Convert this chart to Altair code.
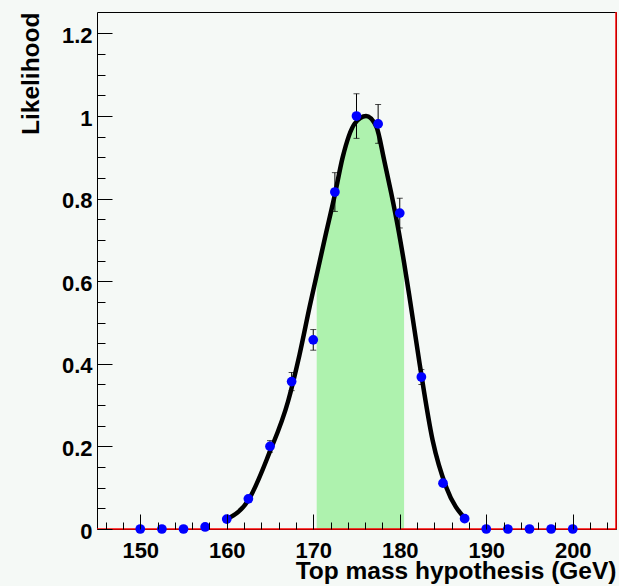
import altair as alt
import pandas as pd

# ---- data ----
mass = [150, 152.5, 155, 157.5, 160, 162.5, 165, 167.5, 170, 172.5, 175,
        177.5, 180, 182.5, 185, 187.5, 190, 192.5, 195, 197.5, 200]
likelihood = [0, 0, 0, 0.005, 0.024, 0.073, 0.2, 0.357, 0.458, 0.816, 1.0,
              0.981, 0.765, 0.368, 0.111, 0.025, 0, 0, 0, 0, 0]
errors = [0, 0, 0, 0.002, 0.004, 0.005, 0.014, 0.022, 0.025, 0.047, 0.054,
          0.047, 0.036, 0.018, 0.007, 0.003, 0, 0, 0, 0, 0]

fit_x = [160.0, 162.5, 164.9, 167.1, 168.4, 169.6, 171.3, 172.5, 173.4, 174.8,
         176.1, 177.3, 178.2, 179.0, 179.8, 180.5, 181.2, 182.3, 183.8, 185.4, 187.5]
fit_y = [0.024, 0.070, 0.183, 0.31, 0.421, 0.54, 0.70, 0.81, 0.90, 0.982,
         1.0, 0.974, 0.893, 0.815, 0.73, 0.645, 0.552, 0.400, 0.215, 0.100, 0.026]

band_x = [170.4, 171.3, 172.5, 173.4, 174.8, 176.1, 177.3, 178.2, 179.0, 179.8, 180.5]
band_y = [0.615, 0.70, 0.81, 0.90, 0.982, 1.0, 0.974, 0.893, 0.815, 0.73, 0.645]

x_domain = [145, 205]
y_domain = [0, 1.252]
x_major = [150, 160, 170, 180, 190, 200]
x_ticks = [146, 148, 150, 152, 154, 156, 158, 160, 162, 164, 166, 168, 170, 172,
           174, 176, 178, 180, 182, 184, 186, 188, 190, 192, 194, 196, 198, 200,
           202, 204]
y_major = [0, 0.2, 0.4, 0.6, 0.8, 1.0, 1.2]
y_ticks = [0, 0.05, 0.1, 0.15, 0.2, 0.25, 0.3, 0.35, 0.4, 0.45, 0.5, 0.55, 0.6,
           0.65, 0.7, 0.75, 0.8, 0.85, 0.9, 0.95, 1.0, 1.05, 1.1, 1.15, 1.2]

FONT = "Liberation Sans"
BG = "#f5f9f6"

pts = pd.DataFrame({"m": mass, "L": likelihood, "e": errors})
pts["lo"] = pts["L"] - pts["e"]
pts["hi"] = pts["L"] + pts["e"]
errs = pts[pts["e"] > 0]
fit = pd.DataFrame({"m": fit_x, "L": fit_y})
band = pd.DataFrame({"m": band_x, "L": band_y})
hline = pd.DataFrame({"x": [x_domain[0]], "x2": [x_domain[1]], "y": [y_domain[0]]})
vline = pd.DataFrame({"x": [x_domain[1]], "y": [y_domain[0]], "y2": [y_domain[1]]})

xs = alt.Scale(domain=x_domain, nice=False, zero=False)
ys = alt.Scale(domain=y_domain, nice=False, zero=False)

x_label_axis = alt.Axis(
    orient="bottom", values=x_major, ticks=False, tickSize=0, domain=False,
    grid=False, labelFont=FONT, labelFontSize=22, labelFontWeight="bold",
    labelColor="black", labelPadding=11, labelFlush=False,
    title="Top mass hypothesis (GeV)", titleFont=FONT, titleFontSize=24.5,
    titleFontWeight="bold", titleColor="black", titleAlign="right",
    titleBaseline="alphabetic", titleX=519, titleY=49,
)
y_label_axis = alt.Axis(
    orient="left", values=y_major, ticks=False, tickSize=0, domain=False,
    grid=False, labelFont=FONT, labelFontSize=22, labelFontWeight="bold",
    labelColor="black", labelPadding=5, labelOffset=2, labelFlush=False,
    format="~g",
    title="Likelihood", titleFont=FONT, titleFontSize=24.5,
    titleFontWeight="bold", titleColor="black", titleAngle=270,
    titleAlign="right", titleBaseline="alphabetic", titleX=-59, titleY=0,
)
x_tick_axis = alt.Axis(
    orient="top", offset=-517, values=x_ticks, labels=False, domain=False,
    grid=False, title=None, tickColor="black", tickWidth=1, zindex=1,
    tickSize={"condition": {"test": "datum.value % 10 === 0", "value": 15}, "value": 7},
)
y_tick_axis = alt.Axis(
    orient="right", offset=-519, values=y_ticks, labels=False, domain=False,
    grid=False, title=None, tickColor="black", tickWidth=1, zindex=1,
    tickSize={"condition": {"test": "abs(datum.value*5 - round(datum.value*5)) < 0.001",
                            "value": 15}, "value": 8},
)

area = alt.Chart(band).mark_area(color="#aef2ae", interpolate="monotone").encode(
    x=alt.X("m:Q", scale=xs, axis=x_label_axis),
    y=alt.Y("L:Q", scale=ys, axis=y_label_axis),
)

red_h = alt.Chart(hline).mark_rule(color="#ff0000", strokeWidth=1.5).encode(
    x=alt.X("x:Q", scale=xs, axis=None), x2="x2:Q",
    y=alt.Y("y:Q", scale=ys, axis=None),
)
red_v = alt.Chart(vline).mark_rule(color="#ff0000", strokeWidth=1.5).encode(
    x=alt.X("x:Q", scale=xs, axis=None),
    y=alt.Y("y:Q", scale=ys, axis=None), y2="y2:Q",
)

curve = alt.Chart(fit).mark_line(color="black", strokeWidth=4.5,
                                  interpolate="monotone", strokeCap="round").encode(
    x=alt.X("m:Q", scale=xs, axis=None),
    y=alt.Y("L:Q", scale=ys, axis=None),
)

ebar = alt.Chart(errs).mark_rule(color="black", strokeWidth=1).encode(
    x=alt.X("m:Q", scale=xs, axis=None),
    y=alt.Y("lo:Q", scale=ys, axis=None), y2="hi:Q",
)
cap_lo = alt.Chart(errs).mark_tick(color="black", orient="horizontal",
                                   size=6, thickness=1).encode(
    x=alt.X("m:Q", scale=xs, axis=None),
    y=alt.Y("lo:Q", scale=ys, axis=None),
)
cap_hi = alt.Chart(errs).mark_tick(color="black", orient="horizontal",
                                   size=6, thickness=1).encode(
    x=alt.X("m:Q", scale=xs, axis=None),
    y=alt.Y("hi:Q", scale=ys, axis=None),
)

points = alt.Chart(pts).mark_point(filled=True, shape="circle", color="#0000ff",
                                   size=95, opacity=1).encode(
    x=alt.X("m:Q", scale=xs, axis=x_tick_axis),
    y=alt.Y("L:Q", scale=ys, axis=y_tick_axis),
)

chart = alt.layer(area, red_h, red_v, curve, ebar, cap_lo, cap_hi, points).resolve_axis(
    x="independent", y="independent"
).properties(
    width=519, height=517,
    autosize=alt.AutoSizeParams(type="none"),
    padding={"left": 97, "top": 12, "right": 3, "bottom": 57},
    background=BG,
).configure_view(
    fill=BG, stroke="black", strokeWidth=1,
)

chart.save("out.html", embed_options={"renderer": "svg", "actions": False})
